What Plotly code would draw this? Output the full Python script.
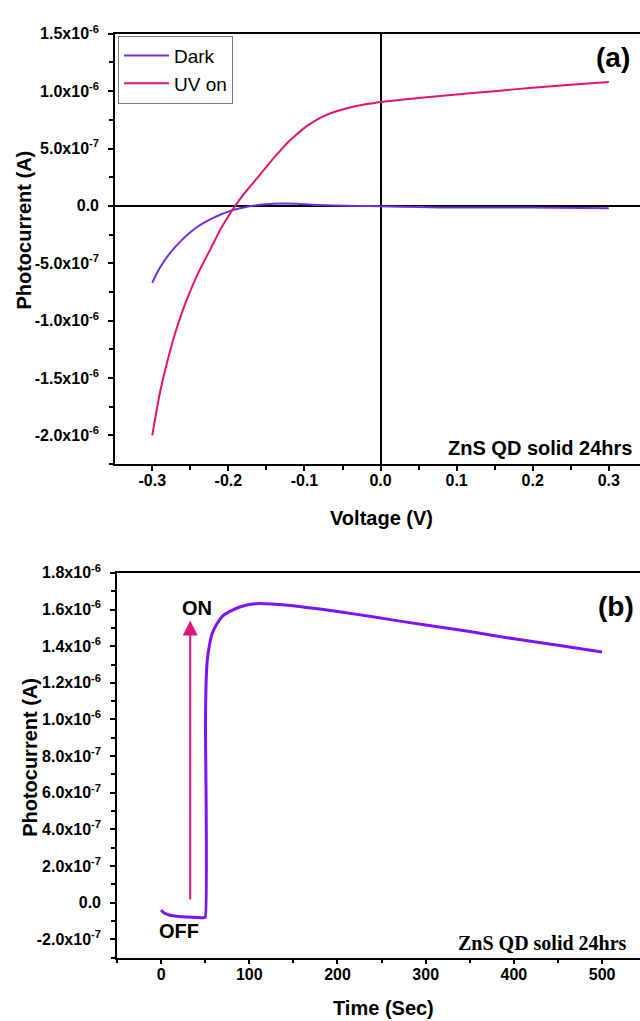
import plotly.graph_objects as go

# ---------- Panel (a): I-V curves (current in units of 1e-6 A) ----------
V_uv = [-0.30, -0.29, -0.28, -0.27, -0.26, -0.25, -0.24, -0.23, -0.22, -0.21, -0.20,
        -0.19, -0.18, -0.17, -0.16, -0.15, -0.14, -0.13, -0.12, -0.11, -0.10, -0.09,
        -0.08, -0.07, -0.06, -0.05, -0.04, -0.03, -0.02, -0.01, 0.0, 0.05, 0.10, 0.15,
        0.20, 0.25, 0.30]
I_uv = [-2.00, -1.63, -1.35, -1.11, -0.91, -0.74, -0.59, -0.46, -0.33, -0.20, -0.09,
        0.01, 0.10, 0.18, 0.26, 0.34, 0.42, 0.495, 0.565, 0.625, 0.68, 0.725,
        0.765, 0.795, 0.82, 0.84, 0.857, 0.872, 0.885, 0.895, 0.905, 0.94, 0.97, 1.00,
        1.03, 1.055, 1.08]

V_dark = [-0.30, -0.295, -0.29, -0.28, -0.27, -0.26, -0.25, -0.24, -0.23, -0.22, -0.21,
          -0.20, -0.19, -0.18, -0.17, -0.16, -0.15, -0.13, -0.11, -0.09, -0.06, -0.03,
          0.0, 0.05, 0.10, 0.20, 0.30]
I_dark = [-0.67, -0.60, -0.54, -0.44, -0.36, -0.29, -0.23, -0.18, -0.14, -0.105, -0.075,
          -0.05, -0.03, -0.015, -0.002, 0.008, 0.015, 0.02, 0.018, 0.01, 0.004, 0.0,
          -0.003, -0.01, -0.015, -0.015, -0.02]

# ---------- Panel (b): photocurrent vs time (units of 1e-6 A) ----------
t_sec = [0, 2, 5, 10, 15, 20, 30, 40, 48, 50, 50.3, 51, 52.5, 55, 58, 63, 70, 78, 90,
         100, 112, 125, 150, 180, 220, 260, 300, 350, 400, 450, 500]
I_t = [-0.04, -0.05, -0.06, -0.068, -0.072, -0.075, -0.078, -0.08, -0.082, -0.08, 1.0,
       1.2, 1.33, 1.41, 1.47, 1.52, 1.565, 1.59, 1.615, 1.628, 1.633, 1.63, 1.62, 1.603,
       1.575, 1.545, 1.515, 1.48, 1.44, 1.405, 1.368]

# ---------- Tick labels ----------
xa_vals = [-0.3, -0.2, -0.1, 0.0, 0.1, 0.2, 0.3]
xa_text = ["-0.3", "-0.2", "-0.1", "0.0", "0.1", "0.2", "0.3"]
ya_vals = [-2.0, -1.5, -1.0, -0.5, 0.0, 0.5, 1.0, 1.5]
ya_text = ["-2.0x10<sup>-6</sup>", "-1.5x10<sup>-6</sup>", "-1.0x10<sup>-6</sup>",
           "-5.0x10<sup>-7</sup>", "0.0", "5.0x10<sup>-7</sup>", "1.0x10<sup>-6</sup>",
           "1.5x10<sup>-6</sup>"]
xb_vals = [0, 100, 200, 300, 400, 500]
xb_text = ["0", "100", "200", "300", "400", "500"]
yb_vals = [-0.2, 0.0, 0.2, 0.4, 0.6, 0.8, 1.0, 1.2, 1.4, 1.6, 1.8]
yb_text = ["-2.0x10<sup>-7</sup>", "0.0", "2.0x10<sup>-7</sup>", "4.0x10<sup>-7</sup>",
           "6.0x10<sup>-7</sup>", "8.0x10<sup>-7</sup>", "1.0x10<sup>-6</sup>",
           "1.2x10<sup>-6</sup>", "1.4x10<sup>-6</sup>", "1.6x10<sup>-6</sup>",
           "1.8x10<sup>-6</sup>"]

W, H = 640, 1021
SANS = "Arial, Liberation Sans"
SERIF = "Times New Roman, Liberation Serif"
C_DARK = "#7030E0"
C_UV = "#E5126E"
C_B = "#7A14F5"

def px(x):
    return x / W

def py(y):
    return 1 - y / H

fig = go.Figure()
fig.add_trace(go.Scatter(x=V_dark, y=I_dark, mode="lines", name="Dark",
                         line=dict(color=C_DARK, width=2, shape="spline", smoothing=0.8),
                         xaxis="x", yaxis="y"))
fig.add_trace(go.Scatter(x=V_uv, y=I_uv, mode="lines", name="UV on",
                         line=dict(color=C_UV, width=2, shape="spline", smoothing=0.8),
                         xaxis="x", yaxis="y"))
fig.add_trace(go.Scatter(x=t_sec, y=I_t, mode="lines", showlegend=False,
                         line=dict(color=C_B, width=3, shape="spline", smoothing=0.5),
                         xaxis="x2", yaxis="y2"))

tickfont = dict(family=SANS, size=16, color="black", weight="bold")
common = dict(showgrid=False, showline=True, linecolor="black", linewidth=1.6,
              ticks="outside", ticklen=5, tickwidth=1.5, tickcolor="black",
              tickfont=tickfont, tickmode="array")

fig.update_layout(
    width=W, height=H,
    margin=dict(l=0, r=0, t=0, b=0),
    paper_bgcolor="white", plot_bgcolor="white",
    xaxis=dict(domain=[px(115), 1], range=[-0.349, 0.341], tickvals=xa_vals,
               ticktext=xa_text, mirror=True, zeroline=True, zerolinecolor="black",
               zerolinewidth=1.5, anchor="y", ticklabelstandoff=-4,
               minor=dict(tickmode="linear", tick0=0, dtick=0.05, ticks="outside",
                          ticklen=4, tickcolor="black"),
               **common),
    yaxis=dict(domain=[py(458), py(23)], range=[-2.25, 1.5], tickvals=ya_vals,
               ticktext=ya_text, zeroline=True, zerolinecolor="black",
               zerolinewidth=1.5, anchor="x", ticklabelstandoff=6,
               minor=dict(tickmode="linear", tick0=0, dtick=0.25, ticks="outside",
                          ticklen=4, tickcolor="black"),
               **common),
    xaxis2=dict(domain=[px(117), 1], range=[-50, 543], tickvals=xb_vals,
                ticktext=xb_text, mirror=True, zeroline=False, anchor="y2",
                ticklabelstandoff=-4,
                minor=dict(tickmode="linear", tick0=0, dtick=50, ticks="outside",
                           ticklen=4, tickcolor="black"),
                **common),
    yaxis2=dict(domain=[py(957), py(568)], range=[-0.3, 1.8], tickvals=yb_vals,
                ticktext=yb_text, zeroline=False, anchor="x2", ticklabelstandoff=6,
                minor=dict(tickmode="linear", tick0=0, dtick=0.1, ticks="outside",
                           ticklen=4, tickcolor="black"),
                **common),
    legend=dict(x=px(118), y=py(25), xanchor="left", yanchor="top",
                bgcolor="white", bordercolor="#777777", borderwidth=1,
                font=dict(family=SANS, size=19, color="black"),
                tracegroupgap=0, itemwidth=45),
)

ann = []
def label(text, x, y, size, family=SANS, bold=True, angle=0):
    ann.append(dict(text=text, x=px(x), y=py(y), xref="paper", yref="paper",
                    xanchor="center", yanchor="middle", showarrow=False,
                    textangle=angle,
                    font=dict(family=family, size=size, color="black",
                              weight="bold" if bold else "normal")))

label("(a)", 613, 47, 28)
label("ZnS QD solid 24hrs", 540, 442, 20)
label("Voltage (V)", 381, 513, 20)
label("Photocurrent (A)", 24, 222, 20, angle=-90)
label("(b)", 616, 602, 28)
label("ZnS QD solid 24hrs", 542, 942, 20, family=SERIF)
label("Time (Sec)", 383, 1008, 20)
label("Photocurrent (A)", 30, 755, 20, angle=-90)
label("ON", 197, 603, 20)
label("OFF", 179, 930, 20)

ann.append(dict(x=33, y=1.54, ax=33, ay=0.01, xref="x2", yref="y2",
                axref="x2", ayref="y2", text="", showarrow=True,
                arrowhead=2, arrowsize=1.5, arrowwidth=2, arrowcolor="#E0157A"))

fig.update_layout(annotations=ann)
fig.write_html("out.html",
               post_script="document.body.style.margin='0';"
                           "document.body.style.overflow='hidden';")
